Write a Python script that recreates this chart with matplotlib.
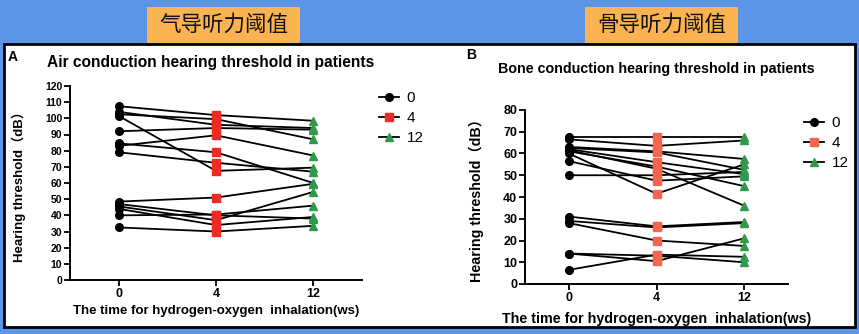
import matplotlib
matplotlib.use("Agg")
import matplotlib.pyplot as plt
from matplotlib.lines import Line2D
from matplotlib.patches import Rectangle

plt.rcParams['font.family'] = ['Liberation Sans', 'Noto Sans CJK SC', 'DejaVu Sans']
plt.rcParams['font.weight'] = 'bold'
plt.rcParams['axes.labelweight'] = 'bold'

# ---- data ----
weeks = ["0", "4", "12"]

air_w0 = [107.5, 104, 102.5, 101.5, 92, 84.5, 83, 79, 48.5, 47, 45.5, 44, 40, 32.5]
air_w4 = [102, 96, 99.5, 67.5, 94, 79, 89.5, 72.5, 51, 40, 37, 34, 40.5, 30]
air_w12 = [98.5, 94, 87, 69.5, 93, 60, 77, 67, 59.5, 38, 54.5, 39, 46, 33.5]

bone_w0 = [67.5, 66.5, 63, 62.5, 62, 61.5, 61, 60, 56.5, 50, 31, 29, 28, 14, 14, 6.5]
bone_w4 = [67.5, 63.5, 61, 60.5, 56, 53, 54, 41.5, 47.5, 50, 26.5, 26, 20, 13, 10.5, 13.5]
bone_w12 = [67.5, 66, 57.5, 52.5, 50.5, 36, 45, 55, 49.5, 51.5, 28.5, 28, 17.5, 10, 21, 12.5]

W, H = 859, 334
fig = plt.figure(figsize=(W / 100, H / 100), dpi=100)
fig.patch.set_facecolor("#5b95e6")


def px(x, y):
    return x / W, 1 - y / H


# white panel with black frame
x0, y0 = px(4, 327)
x1, y1 = px(855, 44)
fig.patches.append(Rectangle((x0, y0), x1 - x0, y1 - y0, transform=fig.transFigure,
                             facecolor="white", edgecolor="black", lw=2, zorder=-2))

# orange title boxes
for (bx0, bx1), txt in [((147, 300), "气导听力阈值"), ((585, 738), "骨导听力阈值")]:
    a, b = px(bx0, 43)
    c, d = px(bx1, 7)
    fig.patches.append(Rectangle((a, b), c - a, d - b, transform=fig.transFigure,
                                 facecolor="#fab350", edgecolor="none", zorder=-1))
    fig.text((a + c) / 2, (b + d) / 2, txt, ha="center", va="center", fontsize=15.5,
             fontweight="normal", family=["Noto Sans CJK SC"], color="#111111")

markers = ["o", "s", "^"]


def panel(rect, series, ylim, yticks, sq_col, title, letter, lab_pos, leg_pos,
          xtick_fs, ytick_fs, lab_fs, xpad, ypad):
    ax = fig.add_axes(rect)
    ax.set_zorder(5)
    ax.patch.set_alpha(0)
    n = len(series[0])
    for i in range(n):
        ax.plot([0, 1, 2], [s[i] for s in series], color="black", lw=1.3, zorder=2)
    mcol = ["black", sq_col, "#2f9a4a"]
    for k, s in enumerate(series):
        ax.plot([k] * n, s, ls="none", marker=markers[k], ms=5.5 if k < 2 else 6,
                color=mcol[k], mec=mcol[k], zorder=3, clip_on=False)
    ax.set_xlim(-0.5, 2.5)
    ax.set_ylim(*ylim)
    ax.set_yticks(yticks)
    ax.set_xticks([0, 1, 2])
    ax.set_xticklabels(weeks)
    for sp in ["top", "right"]:
        ax.spines[sp].set_visible(False)
    for sp in ["left", "bottom"]:
        ax.spines[sp].set_linewidth(1.4)
    ax.tick_params(direction="out", length=4, width=1.3, pad=1.5)
    ax.tick_params(axis="x", labelsize=xtick_fs)
    ax.tick_params(axis="y", labelsize=ytick_fs)
    for lab in ax.get_xticklabels() + ax.get_yticklabels():
        lab.set_fontweight("bold")
    ax.set_xlabel("The time for hydrogen-oxygen  inhalation(ws)", fontsize=lab_fs,
                  fontweight="bold", labelpad=xpad)
    ax.set_ylabel("Hearing threshold（dB）", fontsize=lab_fs, fontweight="bold",
                  labelpad=ypad)
    tx, ty = px(*lab_pos[0])
    fig.text(tx, ty, title, ha="center", va="center", fontsize=lab_pos[2])
    lx, ly = px(*lab_pos[1])
    fig.text(lx, ly, letter, ha="left", va="center", fontsize=10)
    handles = [Line2D([0], [0], color="black", lw=1.3, marker=markers[k], ms=5.5,
                      mfc=mcol[k], mec=mcol[k]) for k in range(3)]
    lgx, lgy = px(*leg_pos)
    leg = fig.legend(handles, weeks, loc="upper left", bbox_to_anchor=(lgx, lgy),
                     frameon=False, fontsize=11, handlelength=1.3, handletextpad=0.5,
                     labelspacing=0.4, borderaxespad=0, borderpad=0)
    for t in leg.get_texts():
        t.set_fontweight("normal")
    return ax


ax1x0, ax1y0 = px(70, 280)
ax1x1, ax1y1 = px(362, 86)
panel([ax1x0, ax1y0, ax1x1 - ax1x0, ax1y1 - ax1y0],
      [air_w0, air_w4, air_w12], (0, 120), list(range(0, 121, 10)), "#ee2a24",
      "Air conduction hearing threshold in patients", "A",
      ((211, 63), (8, 57), 11.2), (379, 91), 9, 7.5, 9.5, 4, 14)

ax2x0, ax2y0 = px(525, 284)
ax2x1, ax2y1 = px(788, 110)
panel([ax2x0, ax2y0, ax2x1 - ax2x0, ax2y1 - ax2y0],
      [bone_w0, bone_w4, bone_w12], (0, 80), list(range(0, 81, 10)), "#f2664f",
      "Bone conduction hearing threshold in patients", "B",
      ((656, 69), (466, 55), 10.3), (804, 116), 9, 9, 10.3, 6, 14)

fig.savefig("out.png", dpi=100, facecolor=fig.get_facecolor())
